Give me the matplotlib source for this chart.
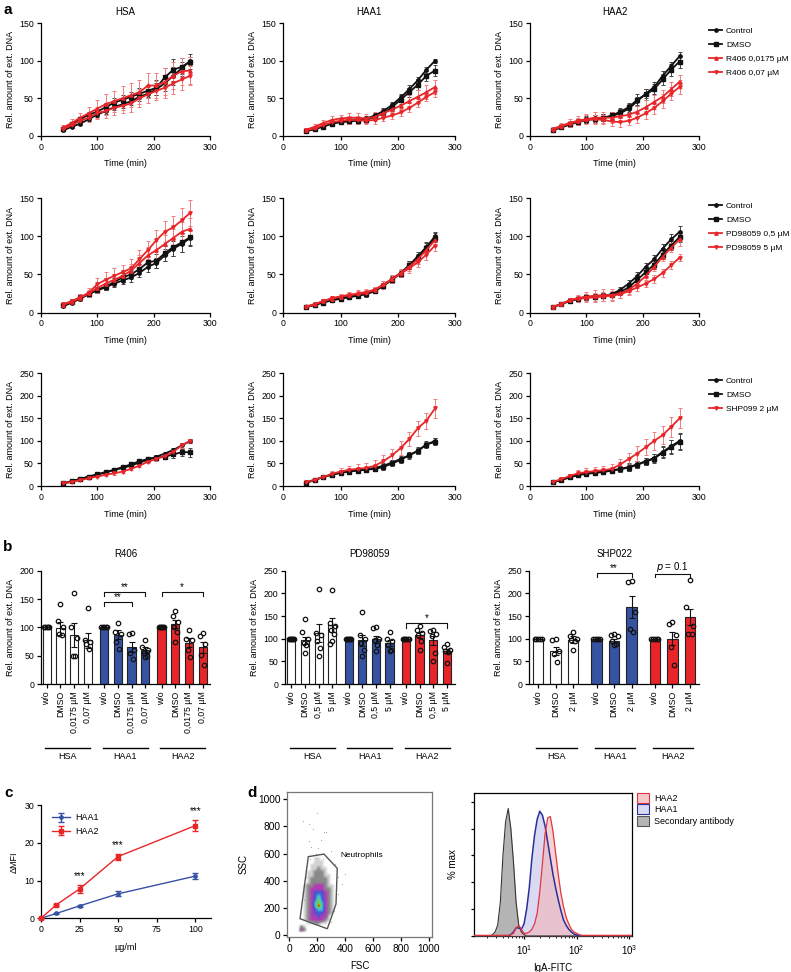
import numpy as np
import matplotlib
matplotlib.use('Agg')
import matplotlib.pyplot as plt
from matplotlib.lines import Line2D
from matplotlib.patches import Patch, Polygon
from matplotlib.colors import LinearSegmentedColormap

plt.rcParams['font.family'] = ['Liberation Sans', 'DejaVu Sans']
plt.rcParams['font.size'] = 6.5
plt.rcParams['axes.linewidth'] = 0.9
plt.rcParams['xtick.major.width'] = 0.9
plt.rcParams['ytick.major.width'] = 0.9
plt.rcParams['xtick.major.size'] = 3
plt.rcParams['ytick.major.size'] = 3
plt.rcParams['xtick.labelsize'] = 6.3
plt.rcParams['ytick.labelsize'] = 6.3
plt.rcParams['mathtext.default'] = 'regular'

RED = '#e8262a'
BLUE = '#3653a3'
BLACK = '#111111'

# --- panel a: kinetics (time in min) ---
t_min = [40, 55, 70, 85, 100, 115, 130, 145, 160, 175, 190, 205, 220, 235, 250, 265]

# R406 row
hsa_r406_ctrl = [7, 12, 16, 22, 28, 33, 38, 42, 46, 52, 56, 62, 70, 80, 90, 100]
hsa_r406_ctrl_err = [1, 2, 2, 3, 3, 4, 4, 5, 5, 6, 6, 8, 10, 12, 8, 5]
hsa_r406_dmso = [9, 15, 22, 28, 32, 38, 44, 48, 52, 56, 60, 64, 78, 88, 92, 99]
hsa_r406_dmso_err = [2, 2, 3, 3, 4, 5, 6, 6, 6, 7, 8, 10, 12, 15, 12, 10]
hsa_r406_lo = [11, 17, 24, 30, 36, 42, 46, 50, 54, 58, 67, 67, 72, 80, 86, 87]
hsa_r406_lo_err = [3, 5, 6, 8, 12, 14, 14, 16, 16, 16, 17, 17, 18, 18, 18, 18]
hsa_r406_hi = [9, 14, 20, 24, 30, 33, 37, 40, 43, 50, 55, 60, 64, 70, 75, 80]
hsa_r406_hi_err = [3, 4, 5, 6, 8, 9, 10, 10, 11, 12, 12, 13, 14, 14, 14, 13]

haa1_r406_ctrl = [6, 9, 13, 17, 19, 21, 22, 23, 27, 33, 41, 51, 62, 74, 88, 100]
haa1_r406_ctrl_err = [1, 1, 2, 2, 2, 3, 3, 3, 3, 4, 4, 4, 5, 5, 4, 3]
haa1_r406_dmso = [6, 9, 12, 16, 18, 19, 20, 21, 25, 30, 38, 48, 58, 68, 80, 87]
haa1_r406_dmso_err = [1, 1, 2, 2, 2, 3, 3, 3, 4, 5, 5, 6, 6, 7, 7, 7]
haa1_r406_lo = [8, 12, 17, 21, 23, 24, 24, 23, 25, 30, 35, 40, 46, 52, 58, 65]
haa1_r406_lo_err = [2, 3, 4, 5, 5, 6, 6, 6, 6, 6, 7, 8, 8, 9, 9, 9]
haa1_r406_hi = [7, 10, 14, 18, 20, 21, 21, 20, 21, 24, 27, 31, 37, 44, 52, 58]
haa1_r406_hi_err = [2, 2, 3, 4, 4, 5, 5, 5, 5, 5, 5, 5, 6, 6, 6, 6]

haa2_r406_ctrl = [8, 11, 15, 19, 22, 23, 24, 26, 30, 36, 46, 56, 65, 80, 93, 106]
haa2_r406_ctrl_err = [1, 2, 3, 3, 4, 5, 5, 5, 5, 6, 6, 6, 6, 6, 6, 6]
haa2_r406_dmso = [7, 11, 15, 18, 21, 22, 24, 27, 32, 38, 48, 55, 62, 75, 88, 99]
haa2_r406_dmso_err = [1, 2, 2, 3, 4, 5, 5, 5, 5, 6, 7, 7, 7, 8, 8, 8]
haa2_r406_lo = [9, 13, 17, 20, 22, 24, 24, 24, 26, 28, 32, 38, 45, 52, 62, 72]
haa2_r406_lo_err = [2, 4, 5, 6, 7, 7, 7, 7, 7, 7, 8, 9, 9, 9, 9, 9]
haa2_r406_hi = [8, 12, 16, 19, 21, 22, 21, 19, 18, 20, 24, 30, 37, 46, 56, 65]
haa2_r406_hi_err = [2, 3, 4, 5, 6, 6, 6, 6, 6, 6, 7, 8, 8, 9, 9, 9]

# PD98059 row
hsa_pd_ctrl = [8, 13, 18, 24, 29, 33, 38, 42, 46, 52, 60, 65, 75, 84, 90, 98]
hsa_pd_ctrl_err = [1, 2, 3, 3, 4, 4, 5, 5, 6, 6, 7, 7, 8, 10, 10, 10]
hsa_pd_dmso = [10, 14, 20, 24, 30, 34, 40, 46, 50, 57, 66, 68, 78, 86, 92, 99]
hsa_pd_dmso_err = [2, 2, 3, 4, 4, 5, 5, 6, 6, 7, 8, 9, 10, 12, 12, 10]
hsa_pd_lo = [10, 14, 19, 25, 32, 38, 43, 48, 55, 65, 75, 82, 90, 98, 106, 110]
hsa_pd_lo_err = [2, 3, 4, 5, 6, 7, 8, 8, 9, 10, 11, 12, 12, 12, 13, 14]
hsa_pd_hi = [11, 15, 20, 26, 37, 43, 48, 53, 58, 70, 82, 95, 106, 112, 121, 131]
hsa_pd_hi_err = [2, 3, 4, 6, 8, 10, 10, 10, 12, 12, 12, 13, 14, 15, 16, 17]

haa1_pd_ctrl = [7, 10, 14, 17, 19, 21, 23, 25, 29, 36, 44, 52, 62, 74, 86, 100]
haa1_pd_ctrl_err = [1, 1, 2, 2, 2, 2, 3, 3, 3, 3, 4, 4, 5, 5, 6, 6]
haa1_pd_dmso = [7, 10, 13, 16, 18, 20, 22, 24, 28, 35, 43, 51, 62, 72, 85, 98]
haa1_pd_dmso_err = [1, 1, 2, 2, 2, 2, 3, 3, 3, 3, 4, 4, 5, 5, 6, 6]
haa1_pd_lo = [8, 11, 15, 18, 21, 23, 25, 27, 30, 37, 44, 52, 60, 70, 82, 95]
haa1_pd_lo_err = [1, 2, 3, 3, 3, 4, 4, 4, 4, 5, 5, 5, 6, 6, 7, 7]
haa1_pd_hi = [7, 11, 15, 19, 21, 23, 24, 26, 30, 36, 44, 51, 58, 66, 76, 88]
haa1_pd_hi_err = [1, 2, 3, 3, 3, 4, 4, 4, 4, 5, 5, 5, 6, 6, 7, 7]

haa2_pd_ctrl = [7, 11, 15, 18, 20, 21, 22, 24, 30, 38, 48, 60, 70, 84, 96, 106]
haa2_pd_ctrl_err = [1, 1, 2, 2, 3, 3, 3, 3, 4, 5, 5, 5, 6, 6, 7, 8]
haa2_pd_dmso = [7, 11, 15, 18, 20, 21, 22, 23, 27, 33, 43, 53, 63, 76, 88, 99]
haa2_pd_dmso_err = [1, 1, 2, 2, 3, 3, 3, 3, 4, 5, 5, 5, 6, 6, 6, 6]
haa2_pd_lo = [7, 11, 16, 19, 21, 22, 23, 23, 25, 30, 38, 48, 60, 73, 85, 96]
haa2_pd_lo_err = [1, 2, 3, 4, 6, 7, 8, 8, 6, 6, 6, 6, 6, 6, 6, 8]
haa2_pd_hi = [7, 11, 16, 18, 19, 20, 21, 22, 24, 28, 33, 38, 44, 52, 62, 72]
haa2_pd_hi_err = [1, 2, 3, 4, 5, 6, 6, 6, 5, 5, 5, 5, 5, 5, 5, 5]

# SHP099 row
hsa_shp_ctrl = [5, 10, 15, 20, 25, 30, 35, 40, 45, 52, 58, 65, 72, 80, 90, 100]
hsa_shp_ctrl_err = [1, 1, 2, 2, 2, 3, 3, 3, 3, 4, 4, 4, 4, 5, 5, 5]
hsa_shp_dmso = [6, 11, 16, 21, 26, 31, 36, 42, 48, 55, 60, 63, 65, 70, 75, 75]
hsa_shp_dmso_err = [1, 1, 2, 2, 2, 3, 3, 3, 3, 4, 4, 5, 6, 7, 8, 10]
hsa_shp_drug = [6, 9, 13, 17, 21, 25, 28, 32, 38, 45, 54, 60, 66, 76, 90, 100]
hsa_shp_drug_err = [1, 1, 2, 2, 2, 2, 3, 3, 3, 3, 4, 4, 4, 4, 5, 5]

haa1_shp_ctrl = [8, 14, 20, 25, 30, 33, 35, 37, 40, 45, 52, 60, 68, 78, 92, 100]
haa1_shp_ctrl_err = [1, 2, 3, 4, 5, 5, 5, 5, 5, 6, 6, 6, 6, 6, 6, 6]
haa1_shp_dmso = [7, 13, 20, 25, 29, 32, 34, 36, 38, 42, 50, 58, 68, 78, 92, 98]
haa1_shp_dmso_err = [1, 2, 3, 4, 5, 5, 5, 5, 5, 6, 6, 6, 7, 8, 8, 8]
haa1_shp_drug = [8, 14, 20, 27, 32, 36, 38, 40, 45, 55, 68, 84, 104, 128, 145, 172]
haa1_shp_drug_err = [2, 3, 5, 7, 8, 9, 10, 10, 12, 14, 15, 15, 15, 16, 18, 22]

haa2_shp_ctrl = [8, 13, 20, 25, 28, 30, 32, 35, 38, 42, 48, 55, 62, 76, 88, 100]
haa2_shp_ctrl_err = [1, 2, 3, 4, 5, 6, 6, 6, 7, 8, 8, 8, 9, 12, 15, 18]
haa2_shp_dmso = [8, 13, 19, 24, 27, 29, 31, 34, 37, 41, 47, 54, 61, 74, 86, 98]
haa2_shp_dmso_err = [1, 2, 3, 4, 5, 5, 5, 6, 7, 8, 8, 8, 9, 12, 15, 18]
haa2_shp_drug = [9, 15, 22, 28, 31, 33, 35, 38, 48, 60, 72, 86, 100, 113, 131, 150]
haa2_shp_drug_err = [2, 3, 5, 7, 8, 9, 9, 10, 12, 14, 16, 18, 20, 20, 22, 22]

# --- panel b: bar charts ---
r406_labels = ['w/o', 'DMSO', '0,0175 µM', '0,07 µM']
r406_means = [100, 98, 87, 77, 100, 87, 65, 60, 100, 106, 73, 65]
r406_sems = [0, 11, 21, 13, 0, 8, 9, 5, 0, 7, 8, 10]
r406_dots = [[100, 100, 100, 100, 100], [142, 111, 101, 88, 86], [160, 100, 82, 50, 50],
             [135, 78, 75, 70, 62], [100, 100, 100, 100, 100], [108, 92, 88, 75, 62],
             [90, 88, 60, 55, 45], [77, 65, 60, 55, 50, 48], [100, 100, 100, 100, 100, 100],
             [128, 120, 110, 100, 92, 75], [95, 80, 78, 60, 48], [90, 85, 70, 52, 33]]

pd_labels = ['w/o', 'DMSO', '0,5 µM', '5 µM']
pd_means = [100, 96, 112, 130, 100, 96, 99, 90, 100, 108, 97, 73]
pd_sems = [0, 8, 20, 16, 0, 12, 8, 7, 0, 7, 10, 5]
pd_dots = [[100, 100, 100, 100, 100, 100], [143, 114, 100, 90, 85, 69], [209, 113, 108, 95, 80, 62],
           [207, 135, 128, 120, 110, 95, 88], [100, 100, 100, 100, 100, 100], [158, 108, 100, 90, 75, 62],
           [125, 123, 100, 98, 85, 72], [115, 100, 95, 85, 75, 72], [100, 100, 100, 100, 100, 100],
           [128, 120, 112, 108, 95, 75], [120, 118, 110, 105, 68, 50], [88, 82, 75, 72, 70, 47]]

shp_labels = ['w/o', 'DMSO', '2 µM']
shp_means = [100, 73, 98, 100, 95, 170, 100, 100, 148]
shp_sems = [0, 8, 7, 0, 5, 24, 0, 15, 18]
shp_dots = [[100, 100, 100, 100, 100], [100, 97, 73, 66, 49], [115, 107, 100, 98, 95, 76],
            [100, 100, 100, 100, 100], [110, 108, 107, 95, 88, 85], [228, 226, 158, 122, 115],
            [100, 100, 100, 100, 100], [137, 132, 108, 81, 42], [229, 171, 127, 110, 110]]

group_names = ['HSA', 'HAA1', 'HAA2']
group_colors = ['white', BLUE, RED]

# --- panel c: dose response ---
dose = [0, 10, 25, 50, 100]
mfi_haa1 = [0, 1.3, 3.3, 6.5, 11.2]
mfi_haa1_err = [0, 0.2, 0.3, 0.7, 0.8]
mfi_haa2 = [0, 3.6, 7.8, 16.4, 24.6]
mfi_haa2_err = [0, 0.3, 1.0, 0.8, 1.5]
star_dose = [25, 50, 100]

# --- panel d: flow cytometry ---
gate_fsc = [138, 250, 345, 336, 274, 79]
gate_ssc = [577, 596, 491, 230, 48, 122]
# density levels on 25-unit bins: FSC 50..350 (columns), SSC 0..600 (rows)
density = [
    [0, 0, 0, 0, 0, 0, 0, 0, 0, 0, 0, 0],
    [0, 3, 2, 0, 0, 0, 0, 0, 0, 0, 0, 0],
    [0, 2, 1, 0, 0, 0, 0, 0, 0, 0, 0, 0],
    [0, 0, 0, 1, 1, 2, 2, 1, 1, 0, 0, 0],
    [0, 0, 1, 2, 3, 3, 3, 3, 2, 1, 0, 0],
    [0, 0, 1, 2, 3, 3, 4, 3, 3, 1, 0, 0],
    [0, 0, 1, 2, 3, 4, 4, 4, 3, 2, 1, 0],
    [0, 0, 1, 2, 3, 4, 5, 5, 3, 2, 1, 0],
    [0, 0, 1, 2, 3, 5, 7, 5, 3, 2, 1, 0],
    [0, 0, 1, 2, 3, 5, 6, 5, 3, 2, 1, 0],
    [0, 0, 1, 2, 3, 4, 6, 4, 3, 2, 1, 0],
    [0, 0, 1, 2, 3, 4, 5, 4, 3, 2, 1, 0],
    [0, 0, 1, 2, 3, 4, 4, 4, 3, 2, 1, 0],
    [0, 0, 1, 2, 3, 3, 3, 3, 2, 2, 1, 0],
    [0, 0, 1, 2, 2, 3, 3, 3, 2, 1, 1, 0],
    [0, 0, 0, 1, 2, 2, 2, 2, 2, 1, 0, 0],
    [0, 0, 0, 1, 2, 2, 2, 2, 2, 1, 0, 0],
    [0, 0, 0, 1, 1, 2, 2, 2, 1, 1, 0, 0],
    [0, 0, 0, 1, 1, 2, 2, 2, 1, 0, 0, 0],
    [0, 0, 0, 0, 1, 1, 2, 1, 1, 0, 0, 0],
    [0, 0, 0, 0, 1, 1, 1, 1, 0, 0, 0, 0],
    [0, 0, 0, 0, 0, 1, 1, 1, 0, 0, 0, 0],
    [0, 0, 0, 0, 0, 1, 1, 0, 0, 0, 0, 0],
    [0, 0, 0, 0, 0, 0, 0, 0, 0, 0, 0, 0],
]
sparse_fsc = [100, 150, 140, 170, 200, 250, 262, 120, 110, 130, 300, 330, 350, 380, 400, 420,
              130, 120, 300, 280, 160, 230, 110, 190, 350, 320, 90, 75, 210, 240, 145, 125]
sparse_ssc = [840, 560, 690, 780, 900, 760, 758, 430, 380, 300, 620, 520, 430, 380, 450, 600,
              200, 150, 100, 80, 650, 700, 260, 600, 300, 180, 70, 30, 640, 560, 820, 500]

# histogram: % max on log10 bins 0.05 .. 3.05
hist_log = [0.05, 0.10, 0.15, 0.20, 0.25, 0.30, 0.35, 0.40, 0.45, 0.50, 0.55, 0.60, 0.65, 0.70,
            0.75, 0.80, 0.85, 0.90, 0.95, 1.00, 1.05, 1.10, 1.15, 1.20, 1.25, 1.30, 1.35, 1.40,
            1.45, 1.50, 1.55, 1.60, 1.65, 1.70, 1.75, 1.80, 1.85, 1.90, 1.95, 2.00, 2.05, 2.10,
            2.15, 2.20, 2.25, 2.30, 2.35, 2.40, 2.45, 2.50, 2.55, 2.60, 2.65, 2.70, 2.75, 2.80,
            2.85, 2.90, 2.95, 3.00, 3.05]
hist_sec = [0, 0, 0, 0, 0, 0, 0, 1, 3, 8, 25, 60, 85, 95,
            80, 55, 25, 8, 3, 1, 0, 0, 0, 0, 0, 0, 0, 0,
            0, 0, 0, 0, 0, 0, 0, 0, 0, 0, 0, 0, 0, 0,
            0, 0, 0, 0, 0, 0, 0, 0, 0, 0, 0, 0, 0, 0,
            0, 0, 0, 0, 0]
hist_haa1 = [0, 0, 0, 0, 0, 0, 0, 0, 0, 0, 0, 0, 0, 0,
             1, 3, 6, 6, 5, 9, 20, 36, 58, 75, 87, 93, 90, 82,
             70, 58, 46, 36, 27, 19, 12, 8, 5, 3, 1.5, 0.7, 0, 0,
             0, 0, 0, 0, 0, 0, 0, 0, 0, 0, 0, 0, 0, 0,
             0, 0, 0, 0, 0]
hist_haa2 = [0.5, 0.5, 0.5, 0.5, 0.5, 0.5, 0.5, 0.5, 0.5, 0.5, 0.5, 0.5, 0.5, 0.5,
             1, 2, 6, 8, 5, 2, 2, 3, 5, 9, 17, 33, 54, 76,
             88, 89, 78, 62, 46, 32, 22, 14, 9, 5, 3, 2, 1, 0.5,
             0.5, 0.5, 0.5, 0.5, 0.5, 0.5, 0.5, 0.5, 0.5, 0.5, 0.5, 0.5, 0.5, 0.5,
             0.5, 0.5, 0.5, 0.5, 0.5]

W, H = 791, 972
fig = plt.figure(figsize=(W / 100, H / 100), dpi=100)


def box(l, t, r, b):
    return fig.add_axes([l / W, 1 - b / H, (r - l) / W, (b - t) / H])


def clean(ax):
    ax.spines['top'].set_visible(False)
    ax.spines['right'].set_visible(False)
    ax.tick_params(direction='out', pad=2)


def kinetics(ax, series, ymax, ystep):
    for vals, errs, col, mk in series:
        ec = '#ef7d7d' if col == RED else '#444444'
        ax.errorbar(t_min, vals, yerr=errs, color=col, ecolor=ec, marker=mk, ms=2.4,
                    lw=1.3, elinewidth=0.7, capsize=1.6, capthick=0.7)
    ax.set_xlim(0, 300)
    ax.set_ylim(0, ymax)
    ax.set_xticks([0, 100, 200, 300])
    ax.set_yticks(np.arange(0, ymax + 1, ystep))
    ax.set_xlabel('Time (min)', labelpad=5.5)
    ax.set_ylabel('Rel. amount of ext. DNA', labelpad=3)
    clean(ax)


cols_px = [(40.7, 210), (283.3, 455), (530, 699.3)]
rows_px = [(23.3, 135.7), (198.3, 312.5), (373.3, 486)]

rows_data = [
    [[(hsa_r406_ctrl, hsa_r406_ctrl_err, BLACK, 'o'), (hsa_r406_dmso, hsa_r406_dmso_err, BLACK, 's'),
      (hsa_r406_lo, hsa_r406_lo_err, RED, '^'), (hsa_r406_hi, hsa_r406_hi_err, RED, 'v')],
     [(haa1_r406_ctrl, haa1_r406_ctrl_err, BLACK, 'o'), (haa1_r406_dmso, haa1_r406_dmso_err, BLACK, 's'),
      (haa1_r406_lo, haa1_r406_lo_err, RED, '^'), (haa1_r406_hi, haa1_r406_hi_err, RED, 'v')],
     [(haa2_r406_ctrl, haa2_r406_ctrl_err, BLACK, 'o'), (haa2_r406_dmso, haa2_r406_dmso_err, BLACK, 's'),
      (haa2_r406_lo, haa2_r406_lo_err, RED, '^'), (haa2_r406_hi, haa2_r406_hi_err, RED, 'v')]],
    [[(hsa_pd_ctrl, hsa_pd_ctrl_err, BLACK, 'o'), (hsa_pd_dmso, hsa_pd_dmso_err, BLACK, 's'),
      (hsa_pd_lo, hsa_pd_lo_err, RED, '^'), (hsa_pd_hi, hsa_pd_hi_err, RED, 'v')],
     [(haa1_pd_ctrl, haa1_pd_ctrl_err, BLACK, 'o'), (haa1_pd_dmso, haa1_pd_dmso_err, BLACK, 's'),
      (haa1_pd_lo, haa1_pd_lo_err, RED, '^'), (haa1_pd_hi, haa1_pd_hi_err, RED, 'v')],
     [(haa2_pd_ctrl, haa2_pd_ctrl_err, BLACK, 'o'), (haa2_pd_dmso, haa2_pd_dmso_err, BLACK, 's'),
      (haa2_pd_lo, haa2_pd_lo_err, RED, '^'), (haa2_pd_hi, haa2_pd_hi_err, RED, 'v')]],
    [[(hsa_shp_ctrl, hsa_shp_ctrl_err, BLACK, 'o'), (hsa_shp_dmso, hsa_shp_dmso_err, BLACK, 's'),
      (hsa_shp_drug, hsa_shp_drug_err, RED, 'v')],
     [(haa1_shp_ctrl, haa1_shp_ctrl_err, BLACK, 'o'), (haa1_shp_dmso, haa1_shp_dmso_err, BLACK, 's'),
      (haa1_shp_drug, haa1_shp_drug_err, RED, 'v')],
     [(haa2_shp_ctrl, haa2_shp_ctrl_err, BLACK, 'o'), (haa2_shp_dmso, haa2_shp_dmso_err, BLACK, 's'),
      (haa2_shp_drug, haa2_shp_drug_err, RED, 'v')]],
]
row_ylim = [(150, 50), (150, 50), (250, 50)]
legend_labels = [['Control', 'DMSO', 'R406 0,0175 µM', 'R406 0,07 µM'],
                 ['Control', 'DMSO', 'PD98059 0,5 µM', 'PD98059 5 µM'],
                 ['Control', 'DMSO', 'SHP099 2 µM']]
legend_marks = [[(BLACK, 'o'), (BLACK, 's'), (RED, '^'), (RED, 'v')],
                [(BLACK, 'o'), (BLACK, 's'), (RED, '^'), (RED, 'v')],
                [(BLACK, 'o'), (BLACK, 's'), (RED, 'v')]]

for r, (top, bot) in enumerate(rows_px):
    for c, (left, right) in enumerate(cols_px):
        ax = box(left, top, right, bot)
        kinetics(ax, rows_data[r][c], *row_ylim[r])
        if r == 0:
            ax.set_title(group_names[c], fontsize=7, pad=6)
        if c == 2:
            handles = [Line2D([], [], color=col, marker=mk, ms=2.4, lw=1.3) for col, mk in legend_marks[r]]
            ax.legend(handles, legend_labels[r], loc='upper left', bbox_to_anchor=(1.06, 0.97),
                      frameon=False, fontsize=6, handlelength=1.5, handletextpad=0.5,
                      labelspacing=0.75, borderpad=0, borderaxespad=0)


# --- panel b ---
def bar_panel(ax, means, sems, dots, labels, ymax, gap, xlim, title):
    n = len(labels)
    pos = [g * (n + gap) + i for g in range(3) for i in range(n)]
    colors = [group_colors[g] for g in range(3) for i in range(n)]
    ax.bar(pos, means, width=0.6, color=colors, edgecolor='#222222', lw=0.8, zorder=2)
    ax.errorbar(pos, means, yerr=sems, fmt='none', ecolor='#111111', elinewidth=0.8,
                capsize=2, capthick=0.8, zorder=3)
    pattern = [0, -0.2, 0.2, -0.1, 0.1, 0.0, -0.2]
    for p, vals in zip(pos, dots):
        order = sorted(vals, reverse=True)
        offs = pattern[:len(order)]
        if len(set(order)) == 1:
            offs = list(np.linspace(-0.2, 0.2, len(order)))
        ax.plot([p + o for o in offs], order, 'o', ms=3.2, mfc='none', mec='#111111',
                mew=0.9, zorder=4, clip_on=False)
    ax.set_xticks(pos)
    ax.set_xticklabels(labels * 3, rotation=90)
    ax.tick_params(axis='x', length=3)
    ax.set_xlim(*xlim)
    ax.set_ylim(0, ymax)
    ax.set_yticks(np.arange(0, ymax + 1, 50))
    ax.set_ylabel('Rel. amount of ext. DNA', labelpad=3)
    ax.set_title(title, fontsize=7, pad=10)
    clean(ax)
    tr = ax.get_xaxis_transform()
    for g in range(3):
        x0 = pos[g * n] - 0.1
        x1 = pos[g * n + n - 1] + 0.2
        ax.plot([x0, x1], [-0.567, -0.567], color='black', lw=1, transform=tr, clip_on=False)
        ax.text((x0 + x1) / 2, -0.6, group_names[g], transform=tr, ha='center', va='top', fontsize=6.5)
    return pos


def bracket(ax, x0, x1, y, drop, text):
    ax.plot([x0, x0, x1, x1], [y - drop, y, y, y - drop], color='#111111', lw=0.8, clip_on=False)
    ax.text((x0 + x1) / 2, y, text, ha='center', va='bottom', fontsize=7, clip_on=False)


b1 = box(41, 570.7, 210, 684)
p1 = bar_panel(b1, r406_means, r406_sems, r406_dots, r406_labels, 200, 0.2, (-0.42, 11.94), 'R406')
bracket(b1, p1[4], p1[7], 163, 8, '**')
bracket(b1, p1[4], p1[6], 145, 8, '**')
bracket(b1, p1[8], p1[11], 163, 8, '*')

b2 = box(285, 570.7, 455, 684)
p2 = bar_panel(b2, pd_means, pd_sems, pd_dots, pd_labels, 250, 0.2, (-0.47, 12.0), 'PD98059')
bracket(b2, p2[8], p2[11], 134, 10, '*')

b3 = box(529.3, 570.7, 699.3, 684)
p3 = bar_panel(b3, shp_means, shp_sems, shp_dots, shp_labels, 250, 0.33, (-0.51, 9.2), 'SHP022')
bracket(b3, p3[3], p3[5], 244, 8, '**')
bracket(b3, p3[6], p3[8], 243, 8, '$\\it{p}$ = 0.1')

# --- panel c ---
cax = box(41, 805.3, 210.7, 918.3)
cax.errorbar(dose, mfi_haa1, yerr=mfi_haa1_err, color=BLUE, marker='o', ms=2.4, lw=1,
             elinewidth=1, capsize=2, capthick=1, label='HAA1', clip_on=False, zorder=3)
cax.errorbar(dose, mfi_haa2, yerr=mfi_haa2_err, color=RED, marker='s', ms=2.4, lw=1,
             elinewidth=1, capsize=2, capthick=1, label='HAA2', clip_on=False, zorder=3)
for d in star_dose:
    i = dose.index(d)
    cax.text(d, mfi_haa2[i] + mfi_haa2_err[i] + 1.0, '***', ha='center', va='bottom', fontsize=7)
cax.set_xlim(0, 110)
cax.set_ylim(0, 30)
cax.set_xticks([0, 25, 50, 75, 100])
cax.set_yticks([0, 10, 20, 30])
cax.set_xlabel('µg/ml', labelpad=6)
cax.set_ylabel('ΔMFI', labelpad=4)
cax.legend(loc='upper left', bbox_to_anchor=(0.04, 0.97), frameon=False, fontsize=6.5,
           handlelength=2, handletextpad=0.5, labelspacing=0.5, borderpad=0)
clean(cax)

# --- panel d: scatter ---
dax = box(287.3, 792.3, 432.3, 936.7)
dens_cmap = LinearSegmentedColormap.from_list(
    'dens', [(1, 1, 1, 0), '#d2d2d2', '#8a8a8a', '#b23cb5', '#4a55d0', '#39c0e0', '#7cd23a', '#e52a1e'])
dax.imshow(np.array(density, dtype=float), extent=[50, 350, 0, 600], origin='lower',
           cmap=dens_cmap, vmin=0, vmax=7, interpolation='bilinear', interpolation_stage='data',
           aspect='auto', zorder=1)
dax.scatter(sparse_fsc, sparse_ssc, s=0.6, color='#9a9a9a', lw=0, zorder=2)
dax.add_patch(Polygon(list(zip(gate_fsc, gate_ssc)), closed=True, fill=False,
                      edgecolor='#555555', lw=1, zorder=3))
dax.text(369, 589, 'Neutrophils', fontsize=6, ha='left', va='center')
dax.set_xlim(-12, 1024)
dax.set_ylim(-10, 1049)
dax.set_xticks(np.arange(0, 1001, 200))
dax.set_yticks(np.arange(0, 1001, 200))
for s in dax.spines.values():
    s.set_color('#777777')
dax.tick_params(direction='out', pad=2, labelsize=7.3)
dax.set_xlabel('FSC', labelpad=5, fontsize=7)
dax.set_ylabel('SSC', labelpad=7, fontsize=7)

# --- panel d: histogram ---
hax = box(474, 792.7, 632.3, 936)
hx = [10 ** v for v in hist_log]
hax.fill_between(hx, hist_sec, color='#b4b4b4', lw=0, zorder=1)
hax.plot(hx, hist_sec, color='#333333', lw=0.8, zorder=4)
hax.fill_between(hx, hist_haa1, color='#c9c9ee', alpha=0.7, lw=0, zorder=2)
hax.fill_between(hx, hist_haa2, color='#f3b4b8', alpha=0.6, lw=0, zorder=3)
hax.plot(hx, hist_haa1, color='#2a2f9a', lw=1.1, zorder=5)
hax.plot(hx, hist_haa2, color='#e2363c', lw=0.9, zorder=6)
hax.set_xscale('log')
hax.set_xlim(10 ** 0.05, 10 ** 3.057)
hax.set_ylim(0, 106.8)
hax.set_xticks([10, 100, 1000])
hax.set_xticklabels(['$10^1$', '$10^2$', '$10^3$'])
hax.set_yticks(np.arange(0, 101, 20))
hax.set_yticklabels([])
hax.tick_params(direction='out', pad=3, length=2.5, labelsize=7)
hax.tick_params(which='minor', length=1.5)
hax.set_xlabel('IgA-FITC', labelpad=4, fontsize=7)
hax.set_ylabel('% max', labelpad=6, fontsize=7)
hist_handles = [Patch(facecolor='#f6c8ca', edgecolor='#e2363c', lw=0.8),
                Patch(facecolor='#d9d9f3', edgecolor='#2a2f9a', lw=0.8),
                Patch(facecolor='#b4b4b4', edgecolor='#555555', lw=0.8)]
hax.legend(hist_handles, ['HAA2', 'HAA1', 'Secondary antibody'], loc='upper left',
           bbox_to_anchor=(1.03, 1.0), frameon=False, fontsize=6.5, handlelength=1.3,
           handleheight=1.3, handletextpad=0.6, labelspacing=0.2, borderpad=0, borderaxespad=0)

# panel letters
for letter, x, y in [('a', 3, 10), ('b', 3, 547), ('c', 4, 793), ('d', 247, 793)]:
    fig.text(x / W, 1 - y / H, letter, fontsize=11, fontweight='bold', va='center', ha='left')

fig.savefig('out.png', dpi=100)
